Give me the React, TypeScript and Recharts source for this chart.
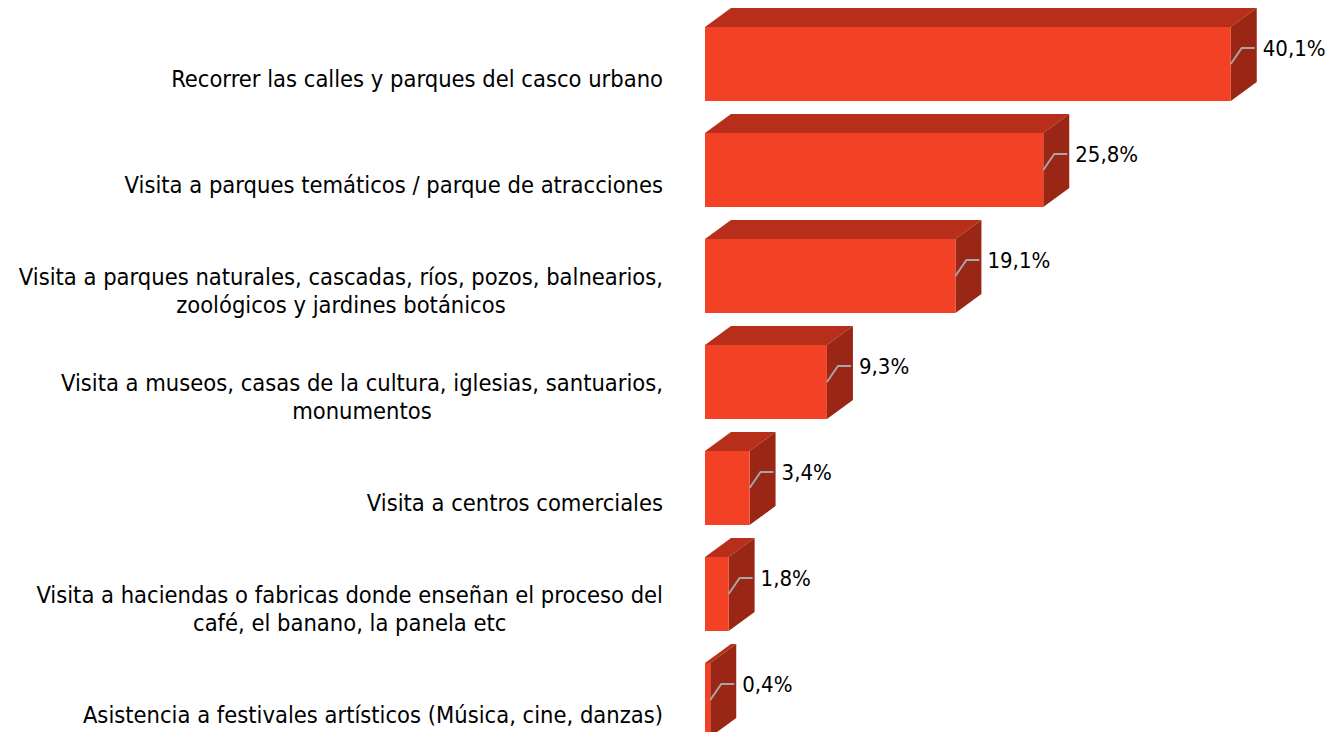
import { Bar, BarChart, LabelList, XAxis, YAxis } from 'recharts';

const categories = [
  'Recorrer las calles y parques del casco urbano',
  'Visita a parques temáticos / parque de atracciones',
  'Visita a parques naturales, cascadas, ríos, pozos, balnearios,\nzoológicos y jardines botánicos',
  'Visita a museos, casas de la cultura, iglesias, santuarios,\nmonumentos',
  'Visita a centros comerciales',
  'Visita a haciendas o fabricas donde enseñan el proceso del\ncafé, el banano, la panela etc',
  'Asistencia a festivales artísticos (Música, cine, danzas)',
];

const values = [40.1, 25.8, 19.1, 9.3, 3.4, 1.8, 0.4];

const data = categories.map((name, i) => ({ name, value: values[i] }));

const FONT = '"DejaVu Sans Condensed", "DejaVu Sans", sans-serif';
const TICK_SIZE = 23.5;
const FRONT = '#f24125';
const TOP = '#b72f1a';
const SIDE = '#9a2616';
const DX = 26;
const DY = 19;
const LIFT = 15;

let measureCtx: CanvasRenderingContext2D | null = null;
function textWidth(s: string) {
  if (!measureCtx) {
    measureCtx = document.createElement('canvas').getContext('2d');
  }
  if (!measureCtx) return s.length * 10;
  measureCtx.font = `${TICK_SIZE}px ${FONT}`;
  return measureCtx.measureText(s).width;
}

function Box3D(props: any) {
  const { x, y, width, height } = props;
  const fy = y - LIFT;
  const w = Math.max(width, 0);
  return (
    <g>
      <polygon
        points={`${x},${fy} ${x + DX},${fy - DY} ${x + w + DX},${fy - DY} ${x + w},${fy}`}
        fill={TOP}
      />
      <polygon
        points={`${x + w},${fy} ${x + w + DX},${fy - DY} ${x + w + DX},${fy + height - DY} ${x + w},${fy + height}`}
        fill={SIDE}
      />
      <rect x={x} y={fy} width={w} height={height} fill={FRONT} />
    </g>
  );
}

function ValueLabel(props: any) {
  const { x, y, width, height, value } = props;
  const right = x + width;
  const fy = y - LIFT;
  const lx = right + 32;
  const ly = fy + 21;
  return (
    <g>
      <polyline
        points={`${right},${fy + height / 2} ${lx - 21},${ly} ${lx - 8},${ly}`}
        fill="none"
        stroke="#a6a6a6"
        strokeWidth={2}
      />
      <text x={lx} y={ly} dy="0.35em" fontSize={22} fontFamily={FONT} fill="#000">
        {String(value).replace('.', ',') + '%'}
      </text>
    </g>
  );
}

function CategoryTick(props: any) {
  const { x, y, payload } = props;
  const lines = String(payload.value).split('\n');
  const lh = 28;
  const start = y - ((lines.length - 1) * lh) / 2;
  const maxW = Math.max(...lines.map(textWidth));
  const cx = x - maxW / 2;
  return (
    <text x={cx} textAnchor="middle" fontSize={TICK_SIZE} fontFamily={FONT} fill="#000">
      {lines.map((l, i) => (
        <tspan key={i} x={cx} y={start + i * lh} dy="0.35em">
          {l}
        </tspan>
      ))}
    </text>
  );
}

export default function App() {
  return (
    <div style={{ position: 'fixed', left: 0, top: 0, width: 1338, height: 732, overflow: 'hidden', background: '#fff' }}>
      <BarChart
        width={1338}
        height={768}
        data={data}
        layout="vertical"
        margin={{ top: 26, right: 43, bottom: 0, left: 0 }}
      >
        <XAxis type="number" domain={[0, 45]} hide />
        <YAxis
          type="category"
          dataKey="name"
          width={705}
          axisLine={false}
          tickLine={false}
          tickSize={0}
          tickMargin={42}
          interval={0}
          tick={<CategoryTick />}
        />
        <Bar dataKey="value" barSize={74} shape={<Box3D />} isAnimationActive={false}>
          <LabelList dataKey="value" content={<ValueLabel />} />
        </Bar>
      </BarChart>
    </div>
  );
}
